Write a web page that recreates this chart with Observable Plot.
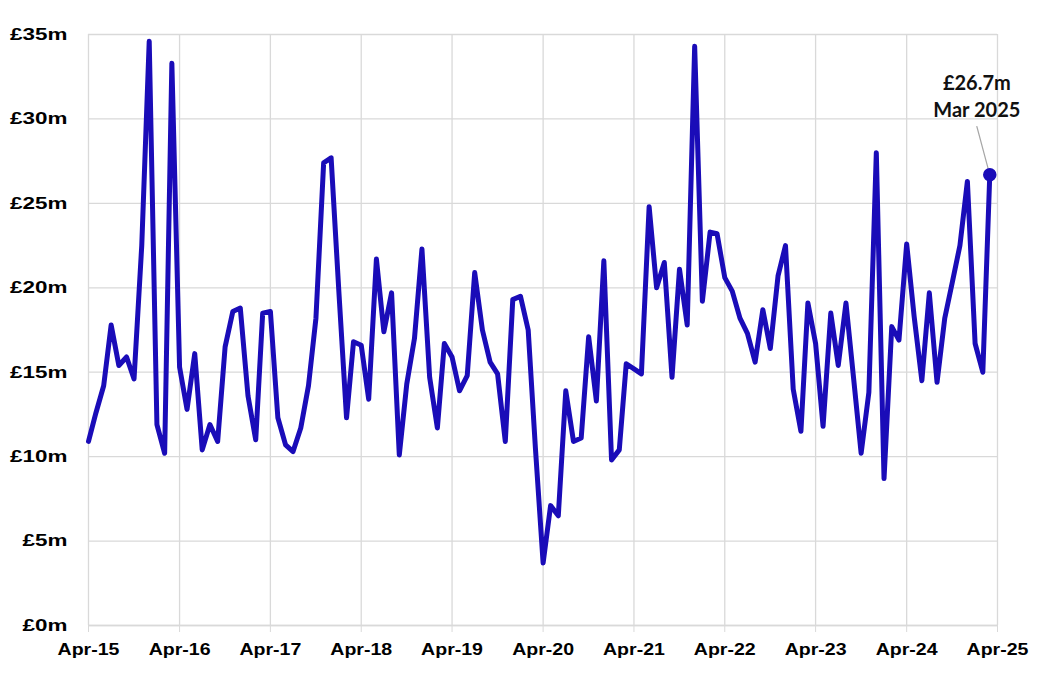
<!DOCTYPE html>
<html>
<head>
<meta charset="utf-8">
<script src="https://cdn.jsdelivr.net/npm/d3@7"></script>
<script src="https://cdn.jsdelivr.net/npm/@observablehq/plot@0.6"></script>
<style>
  html, body { margin: 0; padding: 0; background: #ffffff; }
  #chart { width: 1043px; height: 681px; }
</style>
</head>
<body>
<div id="chart"></div>
<script>
// ---- data ----
const startMonth = "2015-04-01";   // first month of the series (Apr 2015)
const endMonth = "2025-04-01";     // axis end (Apr 2025)
const values = [
  10.9, 12.6, 14.2, 17.8, 15.4, 15.9, 14.6, 22.5, 34.6, 11.9, 10.2, 33.3,
  15.3, 12.8, 16.1, 10.4, 11.9, 10.9, 16.5, 18.6, 18.8, 13.6, 11.0, 18.5,
  18.6, 12.3, 10.7, 10.3, 11.7, 14.2, 18.2, 27.4, 27.7, 19.8, 12.3, 16.8,
  16.6, 13.4, 21.7, 17.4, 19.7, 10.1, 14.3, 17.0, 22.3, 14.7, 11.7, 16.7,
  15.9, 13.9, 14.8, 20.9, 17.5, 15.6, 14.9, 10.9, 19.3, 19.5, 17.5, 10.5,
  3.7, 7.1, 6.5, 13.9, 10.9, 11.1, 17.1, 13.3, 21.6, 9.8, 10.4, 15.5,
  15.2, 14.9, 24.8, 20.0, 21.5, 14.7, 21.1, 17.8, 34.3, 19.2, 23.3, 23.2,
  20.6, 19.8, 18.2, 17.3, 15.6, 18.7, 16.4, 20.7, 22.5, 14.0, 11.5, 19.1,
  16.7, 11.8, 18.5, 15.4, 19.1, 14.6, 10.2, 13.8, 28.0, 8.7, 17.7, 16.9,
  22.6, 18.3, 14.5, 19.7, 14.4, 18.2, 20.3, 22.5, 26.3, 16.7, 15.0, 26.7
];
const yTicks = [0, 5, 10, 15, 20, 25, 30, 35];
const xTickLabels = ["Apr-15", "Apr-16", "Apr-17", "Apr-18", "Apr-19", "Apr-20",
                     "Apr-21", "Apr-22", "Apr-23", "Apr-24", "Apr-25"];
const annotationLines = ["£26.7m", "Mar 2025"];
const annotationAnchor = {date: "2025-01-08", value: 29.55}; // where the label/leader sits

// ---- build table ----
const months = d3.utcMonth.range(new Date(startMonth), new Date(endMonth));
const data = values.map((v, i) => ({date: months[i], value: v}));
const xTicks = xTickLabels.map((_, i) => d3.utcYear.offset(new Date(startMonth), i));
const last = data[data.length - 1];
const anno = [{
  x1: new Date(annotationAnchor.date), y1: annotationAnchor.value,
  x2: last.date, y2: last.value,
  label: annotationLines.join("\n")
}];

const lineColor = "#1a0cb8";
const gridColor = "#d9d9d9";
const axisFont = "'Liberation Sans', Arial, sans-serif";

const chart = Plot.plot({
  width: 1043,
  height: 681,
  marginLeft: 88,
  marginRight: 46,
  marginTop: 34,
  marginBottom: 56,
  style: {background: "#ffffff", color: "#000000", overflow: "visible", fontFamily: axisFont},
  x: {type: "utc", domain: [new Date(startMonth), new Date(endMonth)]},
  y: {domain: [0, 35]},
  marks: [
    Plot.gridY(yTicks, {stroke: gridColor, strokeOpacity: 1, strokeWidth: 1.3}),
    Plot.gridX(xTicks, {stroke: gridColor, strokeOpacity: 1, strokeWidth: 1.3}),
    Plot.ruleY([0], {stroke: gridColor, strokeWidth: 1.3}),
    Plot.axisY({ticks: yTicks, tickSize: 0, tickPadding: 21, tickFormat: d => `£${d}m`,
      fontSize: 16.5, fontWeight: "bold", fill: "#000", fontFamily: axisFont}),
    Plot.axisX({ticks: xTicks, tickSize: 7, tickPadding: 10, stroke: gridColor, strokeOpacity: 1,
      tickFormat: (d, i) => xTickLabels[i], fontSize: 17, fontWeight: "bold", fill: "#000",
      fontFamily: axisFont}),
    Plot.line(data, {x: "date", y: "value", stroke: lineColor, strokeWidth: 5,
      strokeLinejoin: "round", strokeLinecap: "round"}),
    Plot.arrow(anno, {x1: "x1", y1: "y1", x2: "x2", y2: "y2", headLength: 0, insetEnd: 4,
      stroke: "#a6a6a6", strokeWidth: 1.2, bend: 0}),
    Plot.dot([last], {x: "date", y: "value", r: 6, fill: lineColor, stroke: lineColor}),
    Plot.text(anno, {x: "x1", y: "y1", text: "label", lineAnchor: "bottom", dy: -10,
      lineHeight: 1.33, fontSize: 20, fontWeight: "bold", fontFamily: "Lato, 'Open Sans', sans-serif",
      fill: "#111"})
  ]
});

document.getElementById("chart").appendChild(chart);

// Horizontally stretch the axis tick labels (the reference uses wide, stretched glyphs).
function stretch(selector, s, anchor) {
  chart.querySelectorAll(selector).forEach(t => {
    const b = t.getBBox();
    const cx = anchor === "end" ? b.x + b.width : b.x + b.width / 2;
    const prev = t.getAttribute("transform") || "";
    t.setAttribute("transform", `${prev} translate(${cx},0) scale(${s},1) translate(${-cx},0)`);
  });
}
stretch('g[aria-label="y-axis tick label"] text', 1.36, "end");
stretch('g[aria-label="x-axis tick label"] text', 1.15, "middle");
</script>
</body>
</html>
